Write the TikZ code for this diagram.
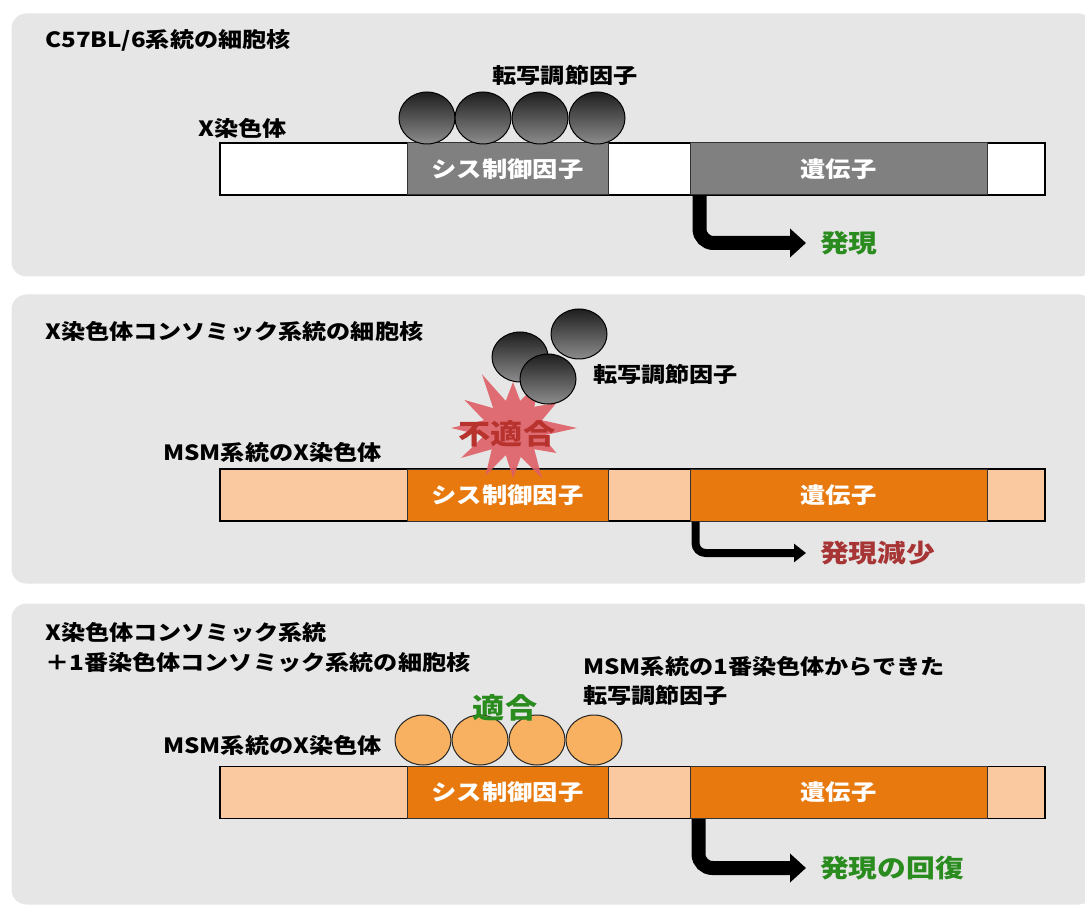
\documentclass[tikz,border=0pt]{standalone}
\usepackage{fontspec}
\setmainfont{Noto Sans CJK JP}[FakeStretch=1.15]
\usetikzlibrary{arrows.meta,calc}
\definecolor{panelbg}{HTML}{E6E6E6}
\definecolor{barlight}{HTML}{FAC9A0}
\definecolor{barorange}{HTML}{E8790E}
\definecolor{bargray}{HTML}{808080}
\definecolor{ballorange}{HTML}{F8B160}
\definecolor{okgreen}{HTML}{2A8C1E}
\definecolor{badred}{HTML}{A83535}
\definecolor{burstred}{HTML}{DE5F66}
\definecolor{burstText}{HTML}{B8332E}
\tikzset{
  panel/.style={fill=panelbg, draw=white, line width=3pt, rounded corners=16pt},
  lbl/.style={font=\bfseries\fontsize{21}{25}\selectfont, inner sep=0pt, anchor=west},
  exprlbl/.style={font=\bfseries\fontsize{25}{29}\selectfont, inner sep=0pt, anchor=west},
  bigtext/.style={font=\bfseries\fontsize{28}{32}\selectfont, inner sep=0pt},
  bartext/.style={font=\bfseries\fontsize{22}{26}\selectfont, text=white},
  barbase/.style={draw=black, line width=1.2pt, minimum height=52pt, inner sep=0pt},
  seg/.style={draw=black!80, line width=1pt, minimum height=52pt, inner sep=0pt},
  grayball/.style={top color=black!88, bottom color=black!45, draw=black, line width=1pt},
  orangeball/.style={fill=ballorange, draw=black!85, line width=1pt},
  bigarrow/.style={draw=black, line width=14pt, rounded corners=14pt, -{Triangle[length=16pt,width=28pt]}},
  thinarrow/.style={draw=black, line width=8pt, rounded corners=10pt, -{Triangle[length=12pt,width=18pt]}},
}
\begin{document}
\begin{tikzpicture}[x=1pt,y=-1pt]
\useasboundingbox (0,0) rectangle (1085,909);
\fill[white] (0,0) rectangle (1085,909);
% panels
\draw[panel] (10,12) rectangle (1095,278);
\draw[panel] (10,293) rectangle (1095,585);
\draw[panel] (10,602) rectangle (1095,906);

% ---------- panel 1 ----------
\node[lbl] (t1) at (45,40) {C57BL/6系統の細胞核};
\node[lbl, anchor=center] (tf1) at (565,75) {転写調節因子};
\node[lbl] (x1) at (198,128) {X染色体};
\node[barbase, fill=white, minimum width=825pt] (bar1) at (632.5,169) {};
\node[seg, fill=bargray, minimum width=201pt] (cis1) at (507.5,169) {};
\node[bartext] at (cis1) {シス制御因子};
\node[seg, fill=bargray, minimum width=297pt] (gene1) at (838.5,169) {};
\node[bartext] at (gene1) {遺伝子};
\foreach \i/\cx in {1/427,2/483,3/540,4/597}
  \draw[grayball] (\cx,118) ellipse [x radius=28, y radius=26];
\node[exprlbl, text=okgreen] (e1) at (820,243) {発現};
\draw[bigarrow] ([xshift=10pt]gene1.south west) |- ([xshift=-14pt]e1.west);

% ---------- panel 2 ----------
\node[lbl] (t2) at (45,332) {X染色体コンソミック系統の細胞核};
\node[barbase, fill=barlight, minimum width=825pt] (bar2) at (632.5,495) {};
\node[seg, fill=barorange, minimum width=201pt] (cis2) at (507.5,495) {};
\node[bartext] at (cis2) {シス制御因子};
\node[seg, fill=barorange, minimum width=297pt] (gene2) at (838.5,495) {};
\node[bartext] at (gene2) {遺伝子};
\node[lbl] (x2) at (163,452) {MSM系統のX染色体};
% starburst
\begin{scope}[shift={(513,428)}]
\fill[burstred, opacity=0.9] (0:64) -- (15:30) -- (30:50) -- (45:30) -- (60:58) -- (75:30) -- (90:50) -- (105:28) -- (120:55) -- (135:30) -- (150:60) -- (165:30) -- (180:62) -- (195:30) -- (210:56) -- (225:28) -- (240:62) -- (255:28) -- (270:46) -- (285:28) -- (300:56) -- (315:30) -- (330:50) -- (345:30) -- cycle;
\end{scope}
\draw[grayball] (520,357) ellipse [x radius=28, y radius=25];
\draw[grayball] (579,334) ellipse [x radius=28, y radius=25];
\draw[grayball] (548,379) ellipse [x radius=28, y radius=25];
\node[lbl] (tf2) at (593,374) {転写調節因子};
\node[bigtext, text=burstText] (bad) at (507,434) {不適合};
\node[exprlbl, text=badred] (e2) at (820,553) {発現減少};
\draw[thinarrow] ([xshift=6pt]gene2.south west) |- ([xshift=-14pt]e2.west);

% ---------- panel 3 ----------
\node[lbl] (t3a) at (45,633) {X染色体コンソミック系統};
\node[lbl] (t3b) at (45,663) {＋1番染色体コンソミック系統の細胞核};
\node[lbl] (tf3a) at (583,666) {MSM系統の1番染色体からできた};
\node[lbl] (tf3b) at (583,695) {転写調節因子};
\node[lbl] (x3) at (163,745) {MSM系統のX染色体};
\node[barbase, fill=barlight, minimum width=825pt] (bar3) at (632.5,792.5) {};
\node[seg, fill=barorange, minimum width=201pt] (cis3) at (507.5,792.5) {};
\node[bartext] at (cis3) {シス制御因子};
\node[seg, fill=barorange, minimum width=297pt] (gene3) at (838.5,792.5) {};
\node[bartext] at (gene3) {遺伝子};
\foreach \i/\cx in {1/423,2/480,3/537,4/594}
  \draw[orangeball] (\cx,740) ellipse [x radius=28, y radius=25];
\node[bigtext, text=okgreen] (ok) at (505,708) {適合};
\node[exprlbl, text=okgreen] (e3) at (820,868) {発現の回復};
\draw[bigarrow] ([xshift=9pt]gene3.south west) |- ([xshift=-14pt]e3.west);
\end{tikzpicture}
\end{document}
